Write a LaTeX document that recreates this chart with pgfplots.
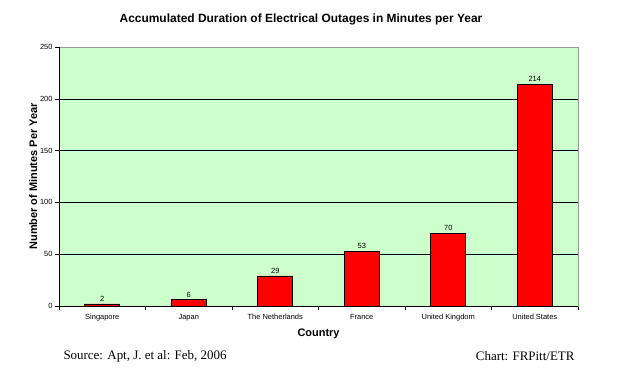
\documentclass[border=0pt]{standalone}
\usepackage{pgfplots}
\pgfplotsset{compat=1.18}
\usepackage{fontspec}
\setmainfont{Liberation Sans}
\newfontfamily\seriffont{Liberation Serif}
\definecolor{bg}{HTML}{CCFFCC}
\begin{document}
\begin{tikzpicture}[x=1bp,y=1bp]
\path[use as bounding box] (0,0) rectangle (631,374);
\begin{axis}[
  at={(59bp,68bp)}, anchor=south west,
  scale only axis, width=519bp, height=259bp,
  xmin=-0.5, xmax=5.5, ymin=0, ymax=250,
  ytick={0,50,...,250},
  xtick={-0.5,0.5,...,5.5},
  xtick pos=bottom, ytick pos=left,
  x tick label as interval,
  xticklabels={Singapore,Japan,The Netherlands,France,United Kingdom,United States},
  tick align=outside, major tick length=4bp,
  tick style={black, line width=0.6pt},
  ymajorgrids, grid style={black, line width=0.6pt},
  axis background/.style={fill=bg},
  axis line style={gray!80, line width=0.6pt},
  ticklabel style={font=\fontsize{7.5}{8}\selectfont},
  yticklabel style={xshift=1bp},
  xticklabel style={yshift=-1bp},
  /pgf/number format/assume math mode=true,
  xlabel={\textbf{Country}},
  xlabel style={font=\fontsize{11}{12}\selectfont, yshift=-1bp},
  ylabel={\textbf{Number of Minutes Per Year}},
  ylabel style={font=\fontsize{11}{12}\selectfont, yshift=-4bp},
  ybar, bar width=0.405,
  nodes near coords,
  every node near coord/.append style={font=\fontsize{7.5}{8}\selectfont, black, yshift=-1bp},
]
\addplot[fill=red, draw=black, line width=0.6pt] coordinates {
 (0,2) (1,6) (2,29) (3,53) (4,70) (5,214)};
\draw[black, line width=0.7pt] (rel axis cs:0,1) -- (rel axis cs:0,0) -- (rel axis cs:1,0);
\end{axis}
\node[font=\fontsize{12}{14}\selectfont\bfseries] at (301,355) {Accumulated Duration of Electrical Outages in Minutes per Year};
\node[font=\seriffont\fontsize{13}{15}\selectfont, anchor=west] at (60,18) {Source: Apt, J. et al: Feb, 2006};
\node[font=\seriffont\fontsize{13}{15}\selectfont, anchor=east] at (578,18) {Chart: FRPitt/ETR};
\end{tikzpicture}
\end{document}
